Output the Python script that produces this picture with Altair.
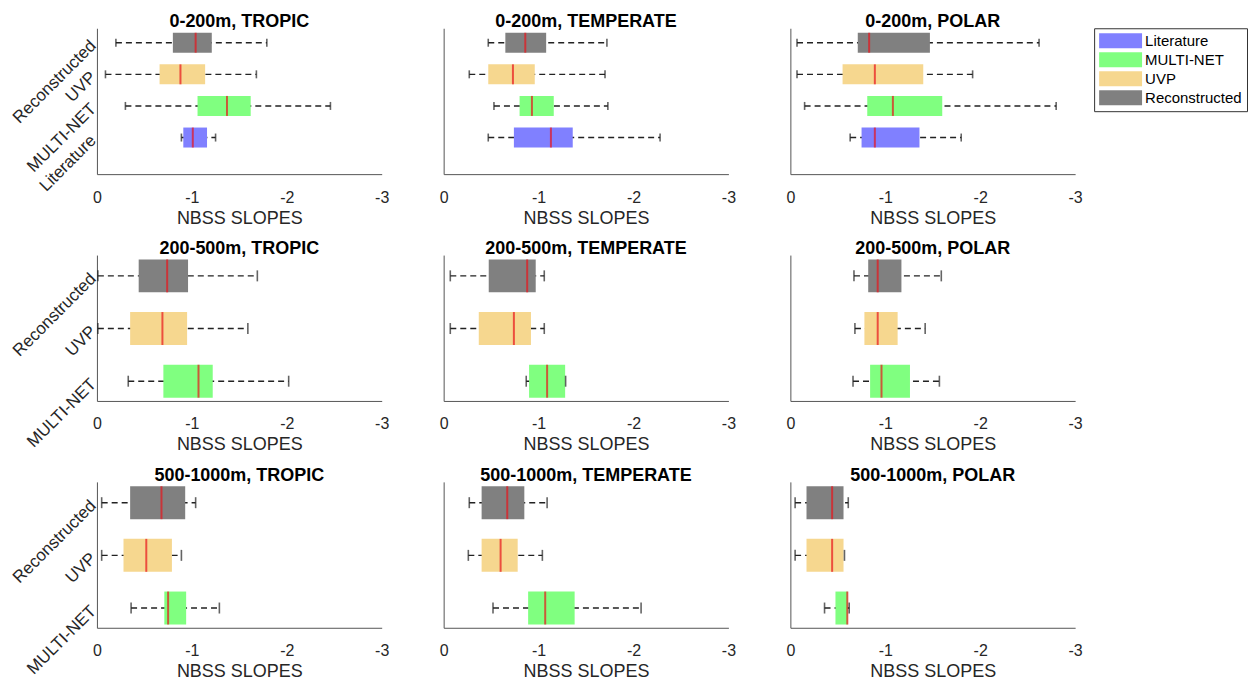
import altair as alt
import pandas as pd

FONT = "Liberation Sans"

depth_names = ["0-200m", "200-500m", "500-1000m"]
region_names = ["TROPIC", "TEMPERATE", "POLAR"]
row_sources = [
    ["Literature", "MULTI-NET", "UVP", "Reconstructed"],
    ["MULTI-NET", "UVP", "Reconstructed"],
    ["MULTI-NET", "UVP", "Reconstructed"],
]
legend_order = ["Literature", "MULTI-NET", "UVP", "Reconstructed"]
legend_colors = ["#8080FF", "#80FF80", "#F6D78F", "#808080"]

rec_depth = (["0-200m"] * 12) + (["200-500m"] * 9) + (["500-1000m"] * 9)
rec_region = (["TROPIC"] * 4 + ["TEMPERATE"] * 4 + ["POLAR"] * 4
              + ["TROPIC"] * 3 + ["TEMPERATE"] * 3 + ["POLAR"] * 3
              + ["TROPIC"] * 3 + ["TEMPERATE"] * 3 + ["POLAR"] * 3)
rec_source = (["Reconstructed", "UVP", "MULTI-NET", "Literature"] * 3
              + ["Reconstructed", "UVP", "MULTI-NET"] * 6)

whisk_lo = [-0.20, -0.09, -0.30, -0.89,
            -0.47, -0.27, -0.53, -0.47,
            -0.07, -0.07, -0.15, -0.63,
            -0.01, -0.01, -0.33,
            -0.07, -0.07, -0.87,
            -0.67, -0.68, -0.66,
            -0.05, -0.05, -0.36,
            -0.27, -0.26, -0.52,
            -0.05, -0.05, -0.36]
box_lo = [-0.80, -0.66, -1.06, -0.91,
          -0.65, -0.47, -0.80, -0.74,
          -0.71, -0.55, -0.81, -0.75,
          -0.44, -0.35, -0.70,
          -0.475, -0.37, -0.90,
          -0.82, -0.78, -0.84,
          -0.35, -0.28, -0.71,
          -0.40, -0.40, -0.89,
          -0.17, -0.17, -0.475]
median = [-1.04, -0.88, -1.37, -1.01,
          -0.86, -0.73, -0.93, -1.13,
          -0.83, -0.89, -1.08, -0.89,
          -0.74, -0.69, -1.07,
          -0.88, -0.74, -1.09,
          -0.92, -0.92, -0.96,
          -0.68, -0.52, -0.75,
          -0.67, -0.60, -1.07,
          -0.44, -0.44, -0.60]
box_hi = [-1.21, -1.14, -1.62, -1.16,
          -1.08, -0.96, -1.16, -1.36,
          -1.47, -1.40, -1.60, -1.36,
          -0.96, -0.95, -1.22,
          -0.97, -0.92, -1.28,
          -1.17, -1.13, -1.26,
          -0.93, -0.79, -0.94,
          -0.85, -0.78, -1.38,
          -0.56, -0.56, -0.605]
whisk_hi = [-1.79, -1.68, -2.46, -1.25,
            -1.72, -1.70, -1.73, -2.28,
            -2.62, -1.92, -2.80, -1.80,
            -1.69, -1.59, -2.02,
            -1.06, -1.06, -1.285,
            -1.59, -1.42, -1.57,
            -1.04, -0.89, -1.29,
            -1.09, -1.04, -2.08,
            -0.61, -0.57, -0.62]

x_ticks = [0, -1, -2, -3]

df = pd.DataFrame({
    "depth": rec_depth, "region": rec_region, "source": rec_source,
    "wlo": whisk_lo, "qlo": box_lo, "med": median, "qhi": box_hi, "whi": whisk_hi,
})


def panel(di, ri):
    srcs = row_sources[di]
    n = len(srcs)
    d = df[(df.depth == depth_names[di]) & (df.region == region_names[ri])].copy()
    d["pos"] = d["source"].map(lambda s: srcs.index(s) + 1)
    ydom = [0, n + 0.3] if n == 4 else [0.72, n + 0.3]
    box_px = 20 if n == 4 else 33
    cap_px = 8 if n == 4 else 11

    lab_arr = "[" + ",".join(["''"] + ["'%s'" % s for s in srcs]) + "]"
    yaxis = alt.Axis(
        values=list(range(1, n + 1)), title=None, grid=False, ticks=False,
        labels=(ri == 0), labelExpr=lab_arr + "[datum.value]",
        labelAngle=315, labelAlign="right", labelBaseline="middle",
        labelOverlap=False, labelFlush=False, labelBound=False,
        labelFontSize=17, labelPadding=4, labelFont=FONT, labelColor="#262626",
        domainColor="#555555",
    )
    xscale = alt.Scale(domain=[-3, 0], reverse=True, nice=False, zero=False)
    xaxis = alt.Axis(
        values=x_ticks, title="NBSS SLOPES", grid=False, ticks=False,
        labelExpr="datum.value == 0 ? '0' : '-' + abs(datum.value)",
        labelFlush=False, labelOverlap=False,
        labelFontSize=16, labelFont=FONT, labelColor="#262626", labelPadding=15,
        titleFontSize=18, titleFont=FONT, titleFontWeight="normal",
        titleColor="#262626", titlePadding=4, domainColor="#555555",
    )
    y = alt.Y("pos:Q", scale=alt.Scale(domain=ydom, nice=False, zero=False), axis=yaxis)
    base = alt.Chart(d)

    whisk = base.mark_rule(color="#222222", strokeWidth=1.4, strokeDash=[6, 4]).encode(
        x=alt.X("wlo:Q", scale=xscale, axis=xaxis), x2="whi:Q", y=y)
    box = base.mark_bar(orient="horizontal", size=box_px).encode(
        x=alt.X("qlo:Q", scale=xscale, axis=xaxis), x2="qhi:Q", y=y,
        color=alt.Color("source:N",
                        scale=alt.Scale(domain=legend_order, range=legend_colors),
                        legend=alt.Legend(title=None)))
    med = base.mark_tick(orient="vertical", size=box_px, thickness=2, color="#E8141B").encode(
        x=alt.X("med:Q", scale=xscale, axis=xaxis), y=y)
    cap1 = base.mark_tick(orient="vertical", size=cap_px, thickness=1.6, color="#222222").encode(
        x=alt.X("wlo:Q", scale=xscale, axis=xaxis), y=y)
    cap2 = base.mark_tick(orient="vertical", size=cap_px, thickness=1.6, color="#222222").encode(
        x=alt.X("whi:Q", scale=xscale, axis=xaxis), y=y)

    return alt.layer(whisk, box, med, cap1, cap2).properties(
        width=285, height=146,
        title=alt.TitleParams("%s, %s" % (depth_names[di], region_names[ri]),
                              fontSize=18, fontWeight="bold", font=FONT,
                              color="#000000", offset=-3),
    )


panels = [panel(di, ri) for di in range(3) for ri in range(3)]

chart = alt.concat(
    *panels, columns=3, spacing={"row": 81, "column": 62}, bounds="flush"
).configure_view(
    stroke=None
).configure_legend(
    orient="right", offset=11, labelFontSize=15, labelFont=FONT, labelColor="#000000",
    symbolType="M-1,-1L4.73,-1L4.73,1L-1,1Z", symbolSize=225,
    symbolStrokeWidth=0, symbolOpacity=1, rowPadding=3, labelOffset=31,
    strokeColor="#333333", padding=5, cornerRadius=0,
).properties(padding={"left": 9, "top": 13, "right": 1, "bottom": 2})

chart.save("out.html", embed_options={"renderer": "svg", "actions": False})
